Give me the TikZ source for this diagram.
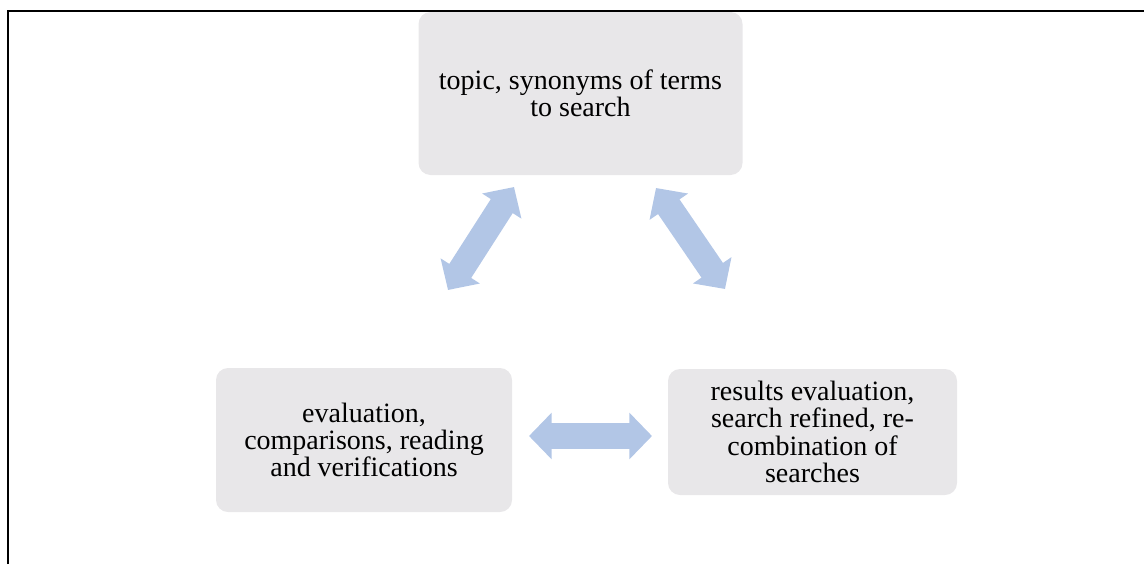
\documentclass[tikz,border=0pt]{standalone}
\usepackage{fontspec}
\setmainfont{Liberation Serif}
\usetikzlibrary{positioning, arrows.meta}
\definecolor{boxgray}{RGB}{232,231,233}
\definecolor{arrowblue}{RGB}{178,198,230}
\tikzset{
	x=0.75pt, y=-0.75pt,
	every text node part/.style= {
		align=center
	},
	stage/.style= {
		rectangle,
		rounded corners=9pt,
		fill=boxgray,
		inner sep=0,
		font=\fontsize{21pt}{20.5pt}\selectfont
	},
	link/.style= {
		arrowblue,
		line width=19.5pt,
		{Triangle[width=34pt,length=17pt]}-{Triangle[width=34pt,length=17pt]}
	},
	frame/.style={line width=1.5pt, black},
}

\begin{document}
\begin{tikzpicture}
	\useasboundingbox (0,0) rectangle (1144,564);
	
	\draw[frame] (7.7,564) -- (7.7,11.2) -- (1144,11.2);
	
	\node (topic)[stage, minimum width=243pt, minimum height=122.25pt] at (580.5,93.5)
		{topic, synonyms of terms\\to search};
	\node (evaluation)[stage, minimum width=222pt, minimum height=108pt] at (364,440)
		{evaluation,\\comparisons, reading\\and verifications};
	\node (results)[stage, minimum width=216.75pt, minimum height=94.5pt] at (812.5,432)
		{results evaluation,\\search refined, re-\\combination of\\searches};
	
	% arrow ends, kept off the boxes
	\coordinate (tl1) at (448,290);
	\coordinate (tl2) at (514,187);
	\coordinate (tr1) at (656,188);
	\coordinate (tr2) at (725,289);
	\coordinate (bm1) at (529,436);
	\coordinate (bm2) at (652,436);
	
	\draw[link] (tl1) -- (tl2);
	\draw[link] (tr1) -- (tr2);
	\draw[link] (bm1) -- (bm2);
	
\end{tikzpicture}
\end{document}
